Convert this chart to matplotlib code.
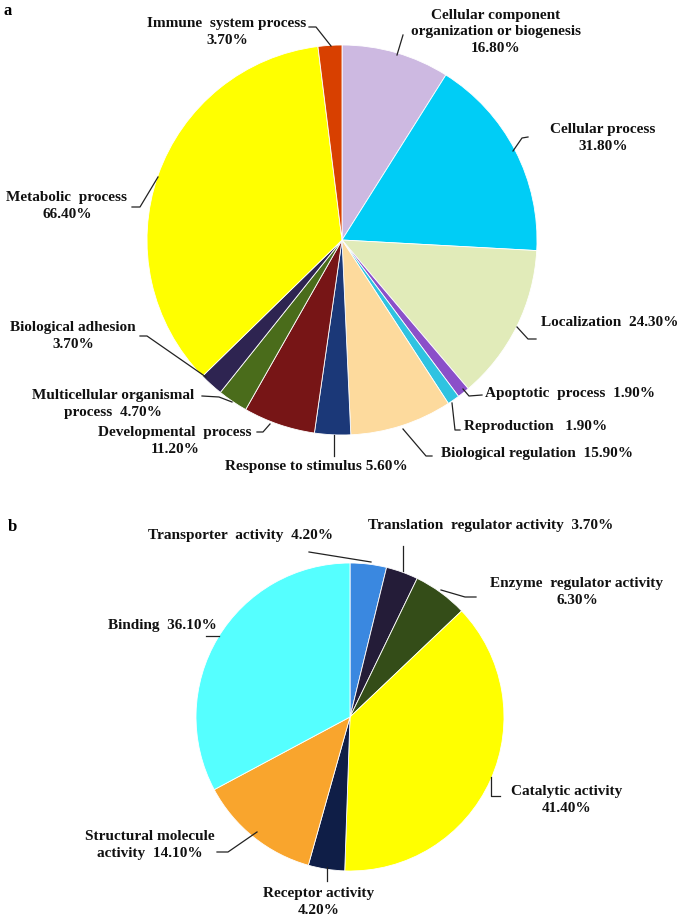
import matplotlib
matplotlib.use('Agg')
import matplotlib.pyplot as plt

# painel a - processos biológicos
bp_labels = ['Cellular component\norganization or biogenesis\n16.80%',
             'Cellular process\n31.80%',
             'Localization  24.30%',
             'Apoptotic  process  1.90%',
             'Reproduction   1.90%',
             'Biological regulation  15.90%',
             'Response to stimulus 5.60%',
             'Developmental  process\n11.20%',
             'Multicellular organismal\nprocess  4.70%',
             'Biological adhesion\n3.70%',
             'Metabolic  process\n66.40%',
             'Immune  system process\n3.70%']
bp_values = [16.8, 31.8, 24.3, 1.9, 1.9, 15.9, 5.6, 11.2, 4.7, 3.7, 66.4, 3.7]
bp_colors = ['#CDB9E1', '#00CDF6', '#E1EBB9', '#8B50C9', '#2FC3E1', '#FDDA9D',
             '#1B3878', '#771516', '#4A6C1B', '#2E2451', '#FFFF00', '#D84000']

# painel b - funções moleculares
mf_labels = ['Transporter  activity  4.20%',
             'Translation  regulator activity  3.70%',
             'Enzyme  regulator activity\n6.30%',
             'Catalytic activity\n41.40%',
             'Receptor activity\n4.20%',
             'Structural molecule\nactivity  14.10%',
             'Binding  36.10%']
mf_values = [4.2, 3.7, 6.3, 41.4, 4.2, 14.1, 36.1]
mf_colors = ['#3A88E0', '#241C38', '#344D18', '#FFFF00', '#0F1E47', '#F9A52D', '#55FFFF']

W, H = 685, 920
fig = plt.figure(figsize=(W/100, H/100), dpi=100)
ax = fig.add_axes([0, 0, 1, 1])

Y = lambda y: H - y  # coordenadas de pixel (topo = 0)

wp = dict(edgecolor='white', linewidth=0.6)
ax.pie(bp_values, colors=bp_colors, startangle=90, counterclock=False,
       center=(342, Y(241)), radius=195, wedgeprops=wp, frame=True)
ax.pie(mf_values, colors=mf_colors, startangle=90, counterclock=False,
       center=(350, Y(718)), radius=154, wedgeprops=wp, frame=True)

font = dict(family='Liberation Serif', weight='bold', fontsize=11,
            ha='center', va='center', linespacing=1.4, color='#111111')

# posições dos rótulos (x, y do centro do texto)
bp_pos = [(496, 32), (603, 138), (610, 323), (570, 393), (536, 427),
          (537, 454), (316, 467), (175, 441), (113, 404), (73, 336),
          (67, 206), (227, 32)]
mf_pos = [(241, 535), (491, 525), (577, 592), (567, 800), (319, 902),
          (150, 845), (162, 625)]

for lab, (x, y) in zip(bp_labels, bp_pos):
    ax.text(x, Y(y), lab, **font)
for lab, (x, y) in zip(mf_labels, mf_pos):
    ax.text(x, Y(y), lab, **font)

# linhas de chamada
leaders = [
    [(403, 36), (397, 56)],
    [(528, 138), (522, 139), (513, 152)],
    [(536, 340), (528, 340), (517, 328)],
    [(482, 396), (469, 397), (463, 390)],
    [(460, 431), (455, 431), (452, 404)],
    [(432, 457), (426, 457), (403, 430)],
    [(334, 436), (334, 457)],
    [(257, 433), (263, 433), (270, 425)],
    [(202, 397), (219, 398), (232, 403)],
    [(140, 337), (147, 337), (206, 378)],
    [(132, 208), (140, 208), (158, 178)],
    [(309, 28), (316, 28), (331, 47)],
    [(309, 553), (371, 563)],
    [(403, 547), (403, 572)],
    [(476, 598), (465, 598), (441, 591)],
    [(500, 797), (491, 797), (491, 778)],
    [(327, 868), (327, 882)],
    [(217, 853), (228, 853), (257, 833)],
    [(206, 637), (219, 637)],
]
for seg in leaders:
    xs = [p[0] for p in seg]
    ys = [Y(p[1]) for p in seg]
    ax.plot(xs, ys, color='#222222', lw=0.9)

ax.text(4, Y(11), 'a', family='Liberation Serif', weight='bold', fontsize=12,
        ha='left', va='center')
ax.text(8, Y(527), 'b', family='Liberation Serif', weight='bold', fontsize=12,
        ha='left', va='center')

ax.set_xlim(0, W)
ax.set_ylim(0, H)
ax.set_aspect('equal')
ax.axis('off')

fig.savefig('out.png', dpi=100)
